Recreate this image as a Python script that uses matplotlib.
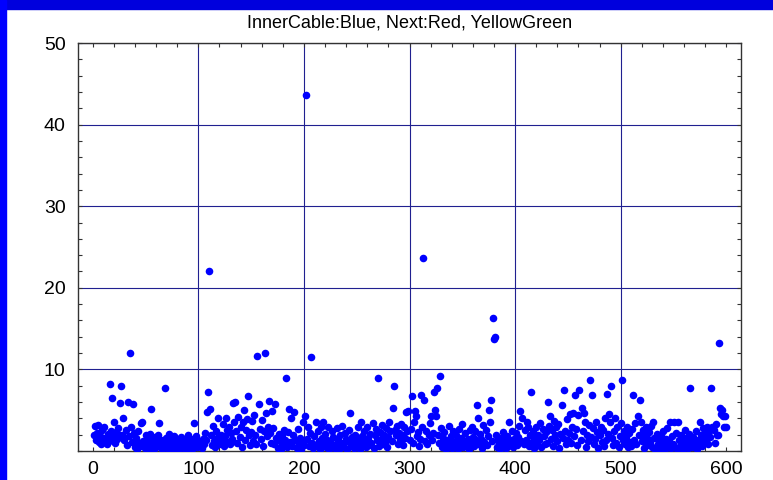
import numpy as np
import matplotlib.pyplot as plt
from matplotlib import ticker
from matplotlib.patches import Rectangle

# sample index 1..600, value per sample (in blocks of 100)
y_001_100 = [1.9, 3.1, 1.4, 2.2, 3.2, 1.1, 1.8, 0.9, 2.6, 1.3,
             2.9, 1.6, 0.8, 2.1, 1.2, 8.2, 2.4, 6.5, 1.7, 3.6,
             1.0, 2.3, 1.5, 2.8, 1.9, 5.9, 8.0, 2.0, 4.1, 1.4,
             2.6, 0.7, 6.0, 1.8, 12.0, 3.0, 1.1, 5.8, 2.2, 0.5,
             1.6, 0.3, 2.4, 1.0, 0.6, 3.4, 3.5, 1.2, 0.4, 1.9,
             0.8, 1.5, 0.3, 2.1, 5.1, 0.9, 1.4, 0.2, 1.7, 0.6,
             1.1, 2.0, 3.4, 0.5, 1.3, 0.3, 0.9, 7.7, 1.6, 0.4,
             1.2, 2.1, 0.7, 0.3, 1.5, 0.9, 1.8, 0.4, 1.1, 0.6,
             1.4, 0.2, 0.9, 1.7, 0.5, 1.0, 0.3, 1.3, 0.7, 1.9,
             0.4, 1.1, 0.6, 0.3, 1.5, 3.4, 0.8, 1.8, 0.5, 1.2]
y_101_200 = [0.6, 1.0, 0.4, 1.5, 0.8, 2.2, 1.3, 4.8, 7.2, 22.1,
             5.2, 1.9, 0.7, 3.1, 1.2, 0.5, 2.4, 1.6, 4.0, 0.9,
             2.0, 1.4, 3.3, 0.6, 1.8, 4.1, 2.6, 1.1, 3.0, 0.8,
             2.2, 1.5, 5.9, 3.6, 6.0, 2.4, 1.0, 4.2, 1.7, 2.9,
             0.5, 3.5, 5.0, 1.3, 2.6, 3.9, 6.8, 1.9, 0.7, 2.3,
             3.7, 1.2, 4.4, 2.0, 0.9, 11.6, 5.8, 2.7, 1.5, 3.8,
             0.6, 2.5, 12.0, 4.6, 1.8, 3.0, 6.1, 2.2, 1.0, 4.9,
             2.8, 0.8, 5.8, 1.6, 0.4, 2.1, 1.2, 0.3, 1.9, 0.7,
             2.6, 1.4, 8.9, 0.5, 2.3, 5.2, 1.1, 4.1, 0.6, 2.0,
             4.8, 1.3, 0.4, 2.7, 0.9, 1.6, 0.3, 1.2, 3.6, 0.7]
y_201_300 = [4.3, 43.6, 1.5, 3.0, 0.6, 2.2, 11.5, 1.0, 0.4, 1.8,
             3.6, 0.7, 2.5, 1.2, 0.3, 3.0, 1.6, 3.6, 0.8, 2.1,
             0.5, 1.4, 2.9, 0.3, 1.1, 0.6, 2.4, 1.7, 0.4, 0.9,
             2.8, 1.3, 0.2, 1.9, 0.7, 3.1, 1.0, 0.5, 2.2, 1.5,
             0.3, 1.2, 2.6, 4.6, 0.8, 1.7, 0.4, 2.0, 1.1, 0.6,
             2.9, 1.4, 0.3, 3.5, 1.8, 0.9, 2.4, 1.2, 0.5, 3.0,
             1.6, 0.7, 2.1, 1.0, 3.4, 0.4, 1.9, 2.7, 1.3, 8.9,
             0.6, 2.3, 1.5, 3.2, 0.9, 2.0, 1.1, 2.8, 0.5, 1.7,
             3.6, 2.4, 1.2, 5.3, 8.0, 2.6, 1.9, 3.1, 0.8, 2.2,
             1.4, 3.3, 2.0, 0.7, 2.9, 1.6, 4.8, 2.5, 4.9, 1.3]
y_301_400 = [2.7, 6.8, 1.0, 3.6, 4.9, 4.3, 1.8, 2.3, 0.6, 1.5,
             6.9, 3.0, 23.6, 6.2, 1.2, 2.5, 0.8, 1.9, 3.4, 4.3,
             1.4, 2.2, 7.2, 5.0, 4.3, 7.7, 2.0, 1.0, 9.2, 2.8,
             0.5, 1.6, 2.3, 0.9, 0.3, 1.3, 3.1, 0.7, 1.8, 0.4,
             2.5, 1.1, 0.6, 2.0, 1.4, 0.3, 2.7, 0.9, 1.6, 3.3,
             0.5, 1.2, 2.2, 0.8, 1.5, 0.3, 2.6, 1.0, 3.0, 1.7,
             0.6, 2.4, 1.3, 5.6, 4.0, 0.9, 2.1, 1.5, 0.4, 3.2,
             1.1, 2.6, 0.7, 1.8, 5.0, 3.6, 6.3, 1.2, 16.3, 13.7,
             14.0, 2.0, 0.5, 1.4, 0.9, 0.3, 1.6, 0.7, 2.3, 1.1,
             0.4, 1.8, 0.6, 3.6, 1.3, 0.9, 2.5, 0.5, 1.5, 1.0]
y_401_500 = [2.2, 0.7, 1.7, 3.1, 4.9, 1.2, 4.0, 0.8, 2.6, 1.4,
             3.5, 2.9, 0.6, 1.9, 7.2, 1.1, 2.4, 0.4, 1.6, 3.0,
             0.9, 2.0, 1.3, 3.4, 0.5, 2.7, 1.8, 0.8, 2.3, 1.0,
             6.0, 3.1, 4.3, 1.5, 2.6, 0.6, 3.7, 1.9, 2.9, 1.2,
             3.3, 0.4, 2.1, 5.6, 1.6, 7.5, 2.5, 0.9, 3.9, 1.4,
             2.2, 4.5, 1.0, 3.0, 4.7, 1.8, 6.9, 2.7, 0.7, 4.4,
             7.5, 1.3, 5.3, 2.4, 4.6, 3.5, 0.5, 2.0, 1.2, 3.2,
             8.7, 1.7, 6.9, 2.8, 0.8, 1.5, 3.6, 2.3, 0.4, 1.9,
             3.0, 1.1, 2.6, 0.6, 4.0, 1.4, 6.95, 2.1, 4.5, 3.5,
             8.0, 1.6, 0.7, 2.4, 4.0, 1.0, 2.9, 0.5, 1.8, 3.4]
y_501_600 = [8.7, 1.3, 2.5, 0.8, 1.7, 3.0, 0.5, 2.2, 1.1, 0.6,
             2.7, 6.9, 1.4, 3.4, 0.9, 4.3, 2.0, 6.2, 3.5, 1.2,
             2.6, 0.4, 1.8, 2.9, 0.7, 1.5, 2.3, 1.0, 3.1, 0.5,
             3.5, 1.6, 0.3, 2.1, 0.8, 1.3, 0.2, 1.9, 0.6, 2.4,
             1.1, 0.3, 1.5, 2.8, 0.7, 1.2, 3.5, 0.4, 1.8, 0.9,
             3.5, 2.2, 0.3, 3.6, 1.4, 0.6, 2.0, 1.0, 0.3, 1.6,
             2.6, 0.8, 1.3, 0.4, 2.1, 7.7, 1.1, 0.5, 1.7, 0.9,
             2.4, 0.3, 1.4, 0.7, 3.5, 1.9, 0.6, 2.8, 1.2, 2.2,
             1.5, 3.0, 0.8, 2.5, 1.7, 7.7, 3.0, 2.6, 1.0, 3.3,
             1.9, 2.0, 13.2, 5.3, 4.5, 5.0, 4.3, 3.0, 4.3, 3.0]

values = y_001_100 + y_101_200 + y_201_300 + y_301_400 + y_401_500 + y_501_600
index = np.arange(1, len(values) + 1)

title = "InnerCable:Blue, Next:Red, YellowGreen"
x_ticks = [0, 100, 200, 300, 400, 500, 600]
y_ticks = [10, 20, 30, 40, 50]

plt.rcParams['font.family'] = ['Liberation Sans', 'DejaVu Sans']

fig = plt.figure(figsize=(7.73, 4.8), dpi=100)
# blue window frame on top and left
fig.patches.append(Rectangle((0, 1 - 9/480), 1, 9/480, transform=fig.transFigure,
                             color='#0000dd', zorder=0))
fig.patches.append(Rectangle((0, 0), 6/773, 1, transform=fig.transFigure,
                             color='#0000ff', zorder=0))

ax = fig.add_axes([78/773, 29/480, 663/773, 408/480])
ax.scatter(index, values, s=30, color='#0000ff', linewidths=0, zorder=3)

ax.set_xlim(-14, 614)
ax.set_ylim(0, 50)
ax.xaxis.set_major_locator(ticker.FixedLocator(x_ticks))
ax.yaxis.set_major_locator(ticker.FixedLocator(y_ticks))
ax.xaxis.set_minor_locator(ticker.MultipleLocator(20))
ax.yaxis.set_minor_locator(ticker.MultipleLocator(2))
ax.grid(True, which='major', color='#202090', linewidth=0.8)
# no vertical grid line at the first and last tick
gl = ax.get_xgridlines()
gl[0].set_visible(False)
gl[-1].set_visible(False)
ax.tick_params(which='both', direction='in', top=True, right=True,
               length=3, width=0.8, color='#333333', labelsize=14)
ax.tick_params(axis='x', pad=7)
ax.tick_params(axis='y', pad=9)
for sp in ax.spines.values():
    sp.set_color('#333333')
    sp.set_linewidth(1.0)

ax.set_title(title, fontsize=13, pad=11)

plt.savefig("out.png", dpi=100)
